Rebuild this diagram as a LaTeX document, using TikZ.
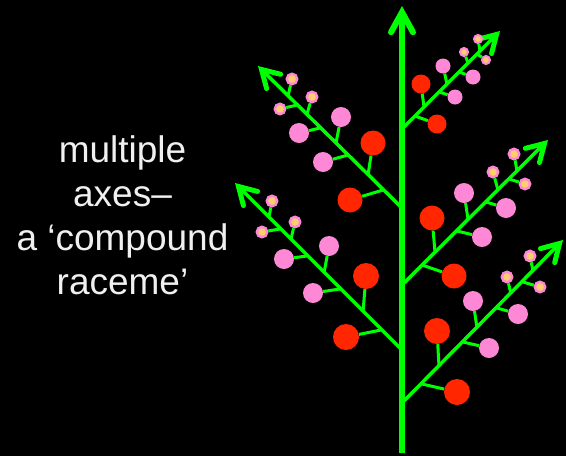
\documentclass[tikz,border=0pt]{standalone}
\usepackage{fontspec}
\setmainfont{Liberation Sans}
\usetikzlibrary{arrows.meta}

\definecolor{stem}{RGB}{0,255,0}
\definecolor{flred}{RGB}{255,38,0}
\definecolor{flpink}{RGB}{255,136,214}
\definecolor{flyellow}{RGB}{255,204,110}

\tikzset{
  mainaxis/.style={stem, line width=6pt, -{Straight Barb[length=20pt,width=22pt,line cap=round]}},
  branch/.style={stem, line width=3.5pt, -{Straight Barb[length=17pt,width=20pt,line width=5pt,line cap=round]}},
  pedicel/.style={stem, line width=3pt},
  redfl/.style={circle, fill=flred, inner sep=0pt, minimum size=#1},
  pinkfl/.style={circle, fill=flpink, inner sep=0pt, minimum size=#1},
  budfl/.style={circle, fill=flyellow, draw=flpink, line width=2.4pt, inner sep=0pt, minimum size=10.5pt},
  minibud/.style={circle, fill=flyellow, draw=flpink, line width=2pt, inner sep=0pt, minimum size=8pt},
}

% one flower on its stalk: style, name, foot of stalk, flower centre
\newcommand{\flower}[4]{%
  \coordinate (#2s) at #3;
  \node[#1] (#2) at #4 {};
  \draw[pedicel] (#2s) -- (#2);
}

\begin{document}
\begin{tikzpicture}[x=1pt,y=-1pt]
  \useasboundingbox (0,0) rectangle (566,456);
  \fill[black] (0,0) rectangle (566,456);

  \node[text=white!94!black, align=center, font=\fontsize{37}{44}\selectfont] (label) at (122.5,215)
    {multiple\\axes–\\a ‘compound\\raceme’};

  % main axis and the side axes
  \coordinate (foot) at (402,453);
  \coordinate (top) at (402,6);
  \coordinate (lub) at (402,208); \coordinate (lut) at (258,66);
  \coordinate (llb) at (402,350); \coordinate (llt) at (235,183);
  \coordinate (rub) at (402,129); \coordinate (rut) at (500,31);
  \coordinate (rmb) at (402,285); \coordinate (rmt) at (548,140);
  \coordinate (rlb) at (402,403); \coordinate (rlt) at (563,240);
  \draw[mainaxis] (foot) -- (top);
  \draw[branch] (lub) -- (lut);
  \draw[branch] (llb) -- (llt);
  \draw[branch] (rub) -- (rut);
  \draw[branch] (rmb) -- (rmt);
  \draw[branch] (rlb) -- (rlt);

  % upper left
  \flower{redfl=25}{lu1}{(383,190)}{(350,200)}
  \flower{redfl=25}{lu2}{(368,175)}{(373,143)}
  \flower{pinkfl=20}{lu3}{(348,155)}{(323,162)}
  \flower{pinkfl=20}{lu4}{(336,143)}{(341,117)}
  \flower{pinkfl=20}{lu5}{(320,128)}{(299,133)}
  \flower{budfl}{lu6}{(307,114)}{(312,97)}
  \flower{budfl}{lu7}{(297,105)}{(280,109)}
  \flower{budfl}{lu8}{(288,96)}{(292,79)}

  % lower left
  \flower{redfl=26}{ll1}{(381,330)}{(346,337)}
  \flower{redfl=26}{ll2}{(363,312)}{(366,276)}
  \flower{pinkfl=20}{ll3}{(340,289)}{(313,293)}
  \flower{pinkfl=20}{ll4}{(324,273)}{(329,246)}
  \flower{pinkfl=20}{ll5}{(307,256)}{(284,259)}
  \flower{budfl}{ll6}{(291,239)}{(295,222)}
  \flower{budfl}{ll7}{(280,229)}{(262,232)}
  \flower{budfl}{ll8}{(269,217)}{(272,201)}

  % upper right
  \flower{redfl=19}{ru1}{(415,116)}{(437,124)}
  \flower{redfl=19}{ru2}{(424,107)}{(421,84)}
  \flower{pinkfl=15}{ru3}{(439,92)}{(455,97)}
  \flower{pinkfl=15}{ru4}{(447,84)}{(443,66)}
  \flower{pinkfl=15}{ru5}{(459,72)}{(473,77)}
  \flower{minibud}{ru6}{(468,63)}{(464,52)}
  \flower{minibud}{ru7}{(477,54)}{(486,60)}
  \flower{minibud}{ru8}{(480,51)}{(478,39)}

  % middle right
  \flower{redfl=25}{rm1}{(422,265)}{(454,276)}
  \flower{redfl=25}{rm2}{(435,252)}{(432,218)}
  \flower{pinkfl=20}{rm3}{(457,231)}{(482,237)}
  \flower{pinkfl=20}{rm4}{(468,219)}{(464,193)}
  \flower{pinkfl=20}{rm5}{(486,202)}{(506,208)}
  \flower{budfl}{rm6}{(498,190)}{(493,172)}
  \flower{budfl}{rm7}{(509,179)}{(525,184)}
  \flower{budfl}{rm8}{(517,171)}{(514,154)}

  % lower right
  \flower{redfl=26}{rl1}{(422,384)}{(457,392)}
  \flower{redfl=26}{rl2}{(439,366)}{(437,331)}
  \flower{pinkfl=20}{rl3}{(463,342)}{(489,348)}
  \flower{pinkfl=20}{rl4}{(477,328)}{(473,301)}
  \flower{pinkfl=20}{rl5}{(497,308)}{(518,314)}
  \flower{budfl}{rl6}{(511,294)}{(507,277)}
  \flower{budfl}{rl7}{(523,282)}{(540,287)}
  \flower{budfl}{rl8}{(533,271)}{(530,256)}
\end{tikzpicture}
\end{document}
